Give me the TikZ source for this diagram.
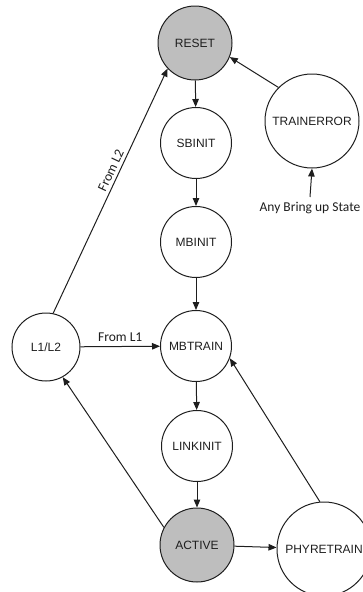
\documentclass[tikz,border=0pt]{standalone}
\usepackage{fontspec}
\setmainfont{Liberation Sans}
\newfontfamily\labelfont{Carlito}
\usetikzlibrary{arrows.meta}
\definecolor{stategray}{RGB}{190,190,190}
\definecolor{inkgray}{RGB}{30,30,30}
\tikzset{
  state/.style={circle, draw=inkgray, line width=1pt, minimum size=#1, inner sep=0pt,
    font=\fontsize{12}{14}\selectfont, text=inkgray},
  state/.default=71pt,
  active/.style={fill=stategray},
  flow/.style={draw=inkgray, line width=1pt, -{Triangle[length=8pt,width=6.5pt]}},
  edgelabel/.style={font=\labelfont\fontsize{13.5}{15}\selectfont, text=inkgray}
}
\begin{document}
\begin{tikzpicture}[x=1pt, y=-1pt]
  \useasboundingbox (0,0) rectangle (363,592);

  % main column of bring-up states
  \node[state=74pt, active] (reset)    at (195,43)  {RESET};
  \node[state]              (sbinit)   at (196,143) {SBINIT};
  \node[state]              (mbinit)   at (196,242) {MBINIT};
  \node[state]              (mbtrain)  at (196,346) {MBTRAIN};
  \node[state]              (linkinit) at (197,446) {LINKINIT};
  \node[state=74pt, active] (active)   at (197,545) {ACTIVE};

  % side states
  \node[state=68pt]         (lowpower) at (46,347)  {L1/L2};
  \node[state=94pt]         (trainerr) at (312,121) {TRAINERROR};
  \node[state=94pt]         (phyre)    at (324,549) {PHYRETRAIN};
  \node[edgelabel, inner sep=1pt] (anystate) at (310,208) {Any Bring up State};

  % straight-down sequence
  \draw[flow] (reset)    -- (sbinit);
  \draw[flow] (sbinit)   -- (mbinit);
  \draw[flow] (mbinit)   -- (mbtrain);
  \draw[flow] (mbtrain)  -- (linkinit);
  \draw[flow] (linkinit) -- (active);
  \draw[flow] (active)   -- (phyre);

  % returns and error paths
  \draw[flow] (phyre.95)     -- (mbtrain.-20);
  \draw[flow] (active.152)   -- (lowpower.-61);
  \draw[flow] (lowpower)     -- node[edgelabel, above, yshift=1pt] (froml1) {From L1} (mbtrain);
  \draw[flow] (lowpower.78)  -- node[edgelabel, sloped, above, pos=0.57] (froml2) {From L2} (reset.223);
  \draw[flow] (trainerr.135) -- (reset.-22);
  \draw[flow] ([yshift=4pt]anystate.north) -- (trainerr.south);
\end{tikzpicture}
\end{document}
